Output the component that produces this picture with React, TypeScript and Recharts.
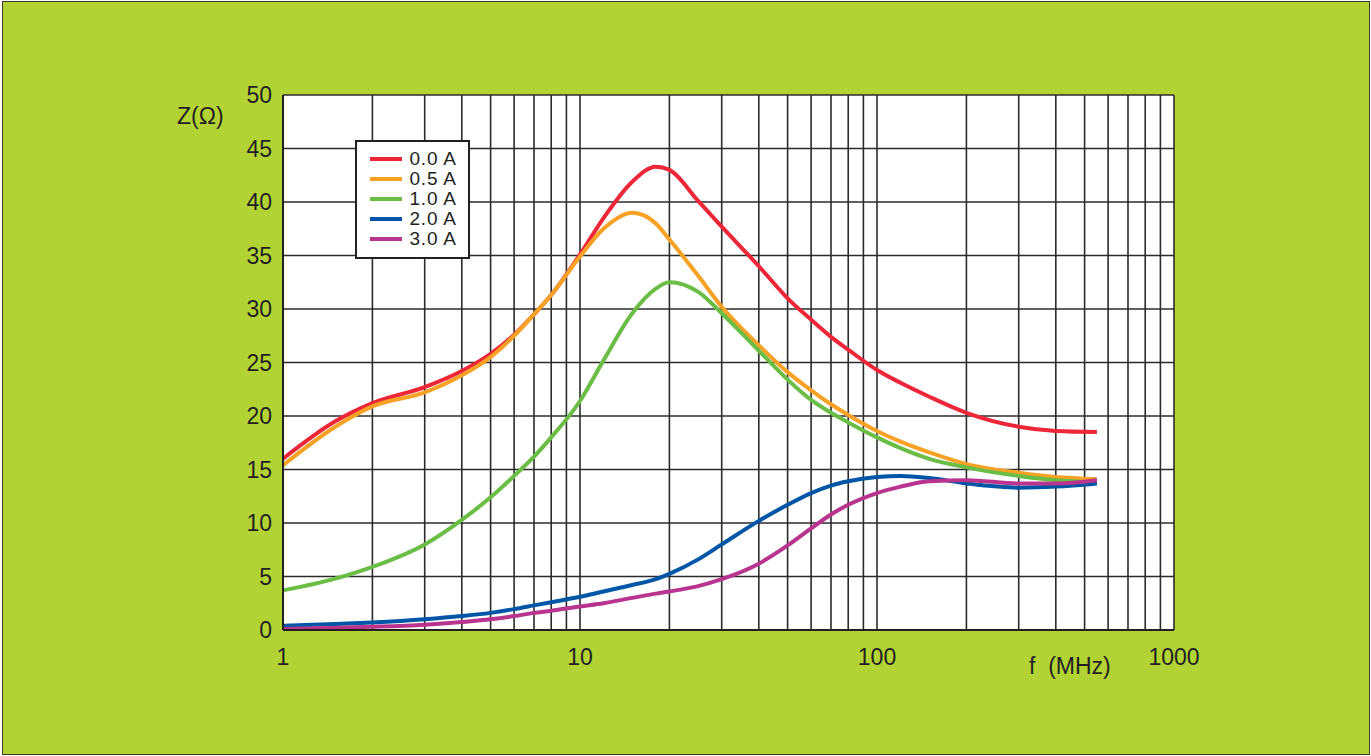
import { CartesianGrid, Label, Legend, Line, LineChart, XAxis, YAxis } from "recharts";

// frequency points (MHz) shared by all curves
const freqs = [1, 1.5, 2, 3, 4, 5, 6, 7, 8, 10, 12, 15, 18, 20, 25, 30, 40, 50, 60, 70, 80, 100, 120, 150, 200, 300, 400, 550];

// impedance Z (ohm) per bias current
const z00 = [16.0, 19.5, 21.2, 22.7, 24.2, 25.8, 27.6, 29.5, 31.3, 35.1, 38.5, 41.9, 43.3, 43.0, 40.1, 37.7, 34.0, 31.0, 29.0, 27.4, 26.2, 24.3, 23.1, 21.8, 20.3, 19.0, 18.6, 18.5];
const z05 = [15.4, 19.0, 20.9, 22.2, 23.8, 25.5, 27.5, 29.5, 31.3, 34.9, 37.5, 39.0, 38.0, 36.5, 33.1, 30.2, 26.6, 24.1, 22.4, 21.1, 20.1, 18.6, 17.6, 16.6, 15.5, 14.7, 14.3, 14.1];
const z10 = [3.7, 4.8, 5.9, 8.0, 10.3, 12.4, 14.4, 16.2, 18.0, 21.4, 25.2, 29.6, 31.9, 32.5, 31.6, 29.6, 26.1, 23.4, 21.5, 20.3, 19.4, 18.0, 17.0, 16.0, 15.2, 14.4, 14.0, 13.8];
const z20 = [0.4, 0.55, 0.7, 1.0, 1.3, 1.6, 1.95, 2.3, 2.6, 3.1, 3.6, 4.2, 4.75, 5.25, 6.6, 8.0, 10.2, 11.7, 12.8, 13.5, 13.9, 14.3, 14.4, 14.2, 13.7, 13.3, 13.4, 13.7];
const z30 = [0.1, 0.2, 0.3, 0.5, 0.75, 1.0, 1.3, 1.6, 1.8, 2.2, 2.5, 3.0, 3.4, 3.6, 4.1, 4.75, 6.2, 7.9, 9.5, 10.8, 11.7, 12.8, 13.4, 13.9, 14.0, 13.7, 13.7, 14.0];

const xTicks = [1, 2, 3, 4, 5, 6, 7, 8, 9, 10, 20, 30, 40, 50, 60, 70, 80, 90, 100, 200, 300, 400, 500, 600, 700, 800, 900, 1000];
const xLabels = [1, 10, 100, 1000];
const yTicks = [0, 5, 10, 15, 20, 25, 30, 35, 40, 45, 50];

const series = [
  { name: "0.0 A", values: z00, color: "#ed2638" },
  { name: "0.5 A", values: z05, color: "#f7a125" },
  { name: "1.0 A", values: z10, color: "#6abd45" },
  { name: "2.0 A", values: z20, color: "#0056a6" },
  { name: "3.0 A", values: z30, color: "#b8348f" },
];

const data = freqs.map((f, i) => {
  const row: Record<string, number> = { f };
  series.forEach((s) => {
    row[s.name] = s.values[i];
  });
  return row;
});

const ink = "#231f20";
const font = '"Liberation Sans", Arial, sans-serif';

function LegendBox({ payload }: any) {
  return (
    <div
      style={{
        width: 111,
        height: 108,
        border: `2px solid ${ink}`,
        background: "#fff",
        boxSizing: "content-box",
        paddingTop: 7,
      }}
    >
      {(payload || []).map((p: any) => (
        <div key={p.value} style={{ display: "flex", alignItems: "center", height: 20 }}>
          <div style={{ width: 32, height: 4, background: p.color, marginLeft: 13, marginRight: 8 }} />
          <span style={{ fontFamily: font, fontSize: 19, letterSpacing: 0.8, color: ink, lineHeight: "20px" }}>{p.value}</span>
        </div>
      ))}
    </div>
  );
}

export default function App() {
  return (
    <div
      style={{
        position: "absolute",
        left: 2,
        top: 1,
        width: 1366,
        height: 752,
        background: "#b3d334",
        border: "1.5px solid #3b3b2b",
      }}
    >
      <div style={{ position: "absolute", left: -3.5, top: -2.5 }}>
        <LineChart width={1371} height={756} data={data} margin={{ top: 95, right: 197, bottom: 96, left: 223 }}>
          <CartesianGrid stroke="#2b2b2b" strokeWidth={1.6} fill="#ffffff" />
          <XAxis
            dataKey="f"
            type="number"
            scale="log"
            domain={[1, 1000]}
            ticks={xTicks}
            interval={0}
            height={30}
            tickLine={false}
            tickMargin={13}
            axisLine={{ stroke: ink, strokeWidth: 2 }}
            tickFormatter={(v: number) => (xLabels.includes(v) ? String(v) : "")}
            tick={{ fill: ink, fontSize: 23, fontFamily: font }}
          >
            <Label
              content={({ viewBox }: any) => (
                <text x={viewBox.x + viewBox.width - 145} y={viewBox.y + 44} fill={ink} fontSize={23} fontFamily={font} xmlSpace="preserve">
                  {"f  (MHz)"}
                </text>
              )}
            />
          </XAxis>
          <YAxis
            type="number"
            domain={[0, 50]}
            ticks={yTicks}
            interval={0}
            width={60}
            tickLine={false}
            tickMargin={5}
            axisLine={{ stroke: ink, strokeWidth: 2 }}
            tick={{ fill: ink, fontSize: 23, fontFamily: font }}
          >
            <Label
              content={({ viewBox }: any) => (
                <text x={viewBox.x - 46} y={viewBox.y + 29} fill={ink} fontSize={23} fontFamily={font}>
                  Z(Ω)
                </text>
              )}
            />
          </YAxis>
          <Legend
            layout="vertical"
            align="center"
            verticalAlign="middle"
            content={LegendBox}
            wrapperStyle={{ left: 355, top: 140, width: 115 }}
          />
          {series.map((s) => (
            <Line
              key={s.name}
              dataKey={s.name}
              name={s.name}
              type="monotone"
              stroke={s.color}
              strokeWidth={4}
              dot={false}
              isAnimationActive={false}
            />
          ))}
        </LineChart>
      </div>
    </div>
  );
}
